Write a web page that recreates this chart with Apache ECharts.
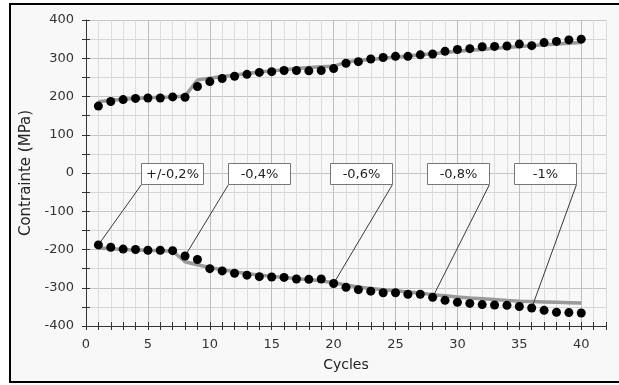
<!DOCTYPE html>
<html>
<head>
<meta charset="utf-8">
<script src="https://cdn.jsdelivr.net/npm/echarts@6/dist/echarts.min.js"></script>
<style>
  html, body { margin: 0; padding: 0; background: #fff; }
  #chart { width: 619px; height: 385px; }
</style>
</head>
<body>
<div id="chart"></div>
<script>
// cycle numbers (x)
const cycles = [1, 2, 3, 4, 5, 6, 7, 8, 9, 10, 11, 12, 13, 14, 15, 16, 17, 18, 19, 20,
  21, 22, 23, 24, 25, 26, 27, 28, 29, 30, 31, 32, 33, 34, 35, 36, 37, 38, 39, 40];

// measured stress, MPa (black dots)
const upperStress = [175, 187, 192, 195, 196, 196, 199, 198, 226, 239, 247, 253, 258, 263, 265, 268, 268, 267, 268, 273,
  287, 291, 298, 302, 305, 305, 309, 311, 318, 323, 325, 330, 331, 332, 337, 333, 341, 344, 348, 350];
const lowerStress = [-188, -194, -199, -200, -202, -202, -203, -217, -226, -250, -256, -262, -267, -271, -272, -273, -277, -278, -277, -289,
  -299, -305, -309, -313, -313, -317, -317, -325, -333, -338, -341, -344, -345, -346, -349, -353, -359, -364, -365, -366];

// model curves, MPa (grey lines)
const upperModel = [186, 190, 193, 195, 197, 198, 199, 201, 243, 248, 252, 256, 260, 264, 267, 270, 273, 276, 278, 279,
  290, 294, 297, 300, 303, 306, 309, 312, 315, 318, 321, 323, 326, 328, 331, 333, 335, 337, 339, 341];
const lowerModel = [-196, -198, -200, -201, -202, -203, -204, -232, -240, -247, -253, -258, -263, -267, -270, -273, -276, -279, -282, -287,
  -293, -298, -302, -305, -308, -311, -314, -318, -321, -324, -327, -329, -331, -333, -335, -336, -337, -338, -339, -340];

// strain level annotations
const noteLabels = ['+/-0,2%', '-0,4%', '-0,6%', '-0,8%', '-1%'];
const noteCycles = [1, 8, 20, 28, 36];       // cycle each note points at (lower series)
const noteCenters = [6.95, 13.95, 22.2, 30.05, 37.1]; // box centre along the cycle axis
const noteSide = [-1, -1, 1, 1, 1];          // leader leaves from left / right corner

const FONT = '"DejaVu Sans", Verdana, sans-serif';

const chart = echarts.init(document.getElementById('chart'));

const pairs = (ys) => cycles.map((c, i) => [c, ys[i]]);

const noteData = noteCenters.map((c, i) => [c, 0, noteCycles[i], lowerStress[noteCycles[i] - 1], noteSide[i]]);

const options = {
  animation: false,
  graphic: [{
    type: 'rect',
    z: -100,
    silent: true,
    shape: { x: 10, y: 4, width: 650, height: 378 },
    style: { fill: '#f8f8f8', stroke: '#000', lineWidth: 2 }
  }],
  grid: [
    { left: 86, right: 13, top: 20, bottom: 59 },
    { left: 86, right: 13, top: 20, bottom: 59 }
  ],
  xAxis: [{
    type: 'value',
    gridIndex: 0,
    min: 0,
    max: 42,
    interval: 1,
    name: 'Cycles',
    nameLocation: 'middle',
    nameGap: 32,
    nameTextStyle: { fontSize: 14, color: '#222', fontFamily: FONT },
    axisLine: { onZero: false, lineStyle: { color: '#333', width: 1 } },
    axisTick: { length: 4, lineStyle: { color: '#333' } },
    axisLabel: {
      margin: 12,
      fontSize: 13,
      color: '#333',
      fontFamily: FONT,
      formatter: (v) => (v % 5 === 0 && v <= 40 ? String(v) : '')
    },
    splitLine: { show: true, lineStyle: { color: ['#bdbdbd', '#dcdcdc', '#dcdcdc', '#dcdcdc', '#dcdcdc'], width: 1 } }
  }, {
    type: 'value',
    gridIndex: 1,
    min: 0,
    max: 42,
    interval: 1,
    axisLine: { show: false, onZero: false },
    axisTick: { inside: true, length: 4, lineStyle: { color: '#333' } },
    axisLabel: { show: false },
    splitLine: { show: false }
  }],
  yAxis: [{
    type: 'value',
    gridIndex: 0,
    min: -400,
    max: 400,
    interval: 50,
    name: 'Contrainte (MPa)',
    nameLocation: 'middle',
    nameGap: 46,
    nameTextStyle: { fontSize: 15, color: '#222', fontFamily: FONT },
    axisLine: { show: true, onZero: false, lineStyle: { color: '#333', width: 1 } },
    axisTick: { show: true, length: 4, lineStyle: { color: '#333' } },
    axisLabel: {
      margin: 12,
      fontSize: 13,
      color: '#333',
      fontFamily: FONT,
      formatter: (v) => (v % 100 === 0 ? String(v) : '')
    },
    splitLine: { show: true, lineStyle: { color: ['#c4c4c4', '#d6d6d6'], width: 1 } }
  }, {
    type: 'value',
    gridIndex: 1,
    min: -400,
    max: 400,
    interval: 50,
    axisLine: { show: false, onZero: false },
    axisTick: { show: true, inside: true, length: 4, lineStyle: { color: '#333' } },
    axisLabel: { show: false },
    splitLine: { show: false }
  }],
  series: [
    {
      name: 'modèle traction',
      type: 'line',
      data: pairs(upperModel),
      showSymbol: false,
      lineStyle: { color: '#9a9a9a', width: 3.5 },
      z: 2
    },
    {
      name: 'modèle compression',
      type: 'line',
      data: pairs(lowerModel),
      showSymbol: false,
      lineStyle: { color: '#9a9a9a', width: 3.5 },
      z: 2
    },
    {
      name: 'notes',
      type: 'custom',
      data: noteData,
      z: 3,
      renderItem: function (params, api) {
        const c = api.coord([api.value(0), api.value(1)]);
        const t = api.coord([api.value(2), api.value(3)]);
        const side = api.value(4);
        const w = 62, h = 21;
        const bx = Math.round(c[0] - w / 2) + 0.5;
        const by = Math.round(c[1] - h / 2) + 0.5;
        const cornerX = side < 0 ? bx : bx + w;
        return {
          type: 'group',
          children: [
            { type: 'line', shape: { x1: cornerX, y1: by + h, x2: t[0], y2: t[1] }, style: { stroke: '#3a3a3a', lineWidth: 1 } },
            { type: 'rect', shape: { x: bx, y: by, width: w, height: h }, style: { fill: '#fff', stroke: '#777', lineWidth: 1 } },
            {
              type: 'text',
              style: {
                text: noteLabels[params.dataIndex],
                x: bx + w / 2,
                y: by + h / 2 + 0.5,
                align: 'center',
                verticalAlign: 'middle',
                font: '13px ' + FONT,
                fill: '#222'
              }
            }
          ]
        };
      }
    },
    {
      name: 'traction',
      type: 'scatter',
      data: pairs(upperStress),
      symbolSize: 9,
      itemStyle: { color: '#000', opacity: 1 },
      z: 4
    },
    {
      name: 'compression',
      type: 'scatter',
      data: pairs(lowerStress),
      symbolSize: 9,
      itemStyle: { color: '#000', opacity: 1 },
      z: 4
    }
  ]
};

chart.setOption(options);
</script>
</body>
</html>
